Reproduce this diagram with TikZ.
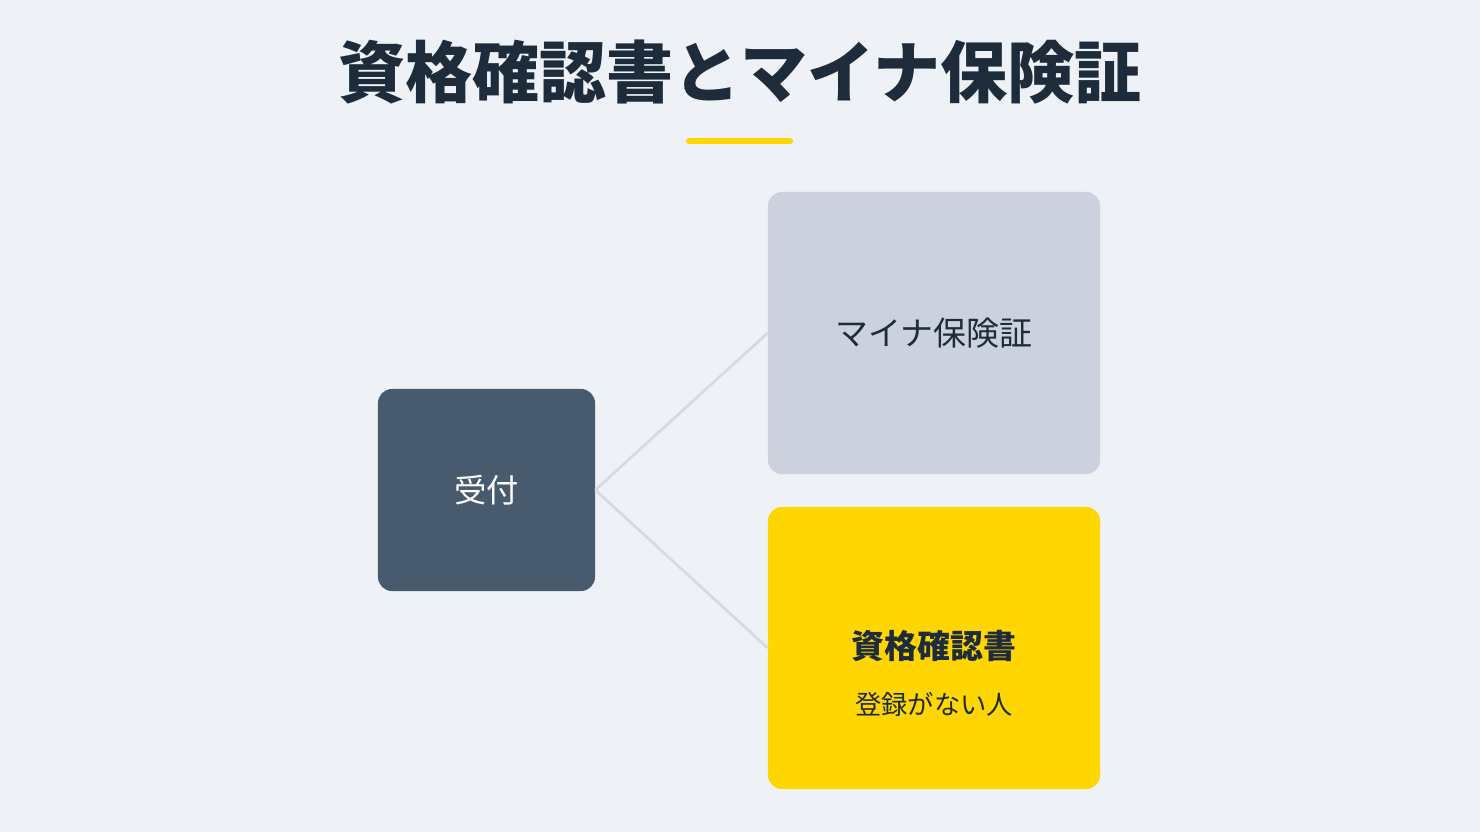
\documentclass[tikz,border=0pt]{standalone}
\usepackage{fontspec}
\setmainfont{Noto Sans CJK JP}
\usetikzlibrary{positioning}
\definecolor{page bg}{HTML}{EEF2F7}
\definecolor{ink}{HTML}{1E2B3A}
\definecolor{slate}{HTML}{475A6E}
\definecolor{mist}{HTML}{CBD2DD}
\definecolor{sun}{HTML}{FFD600}
\definecolor{wirecol}{HTML}{D6DBE2}
\tikzset{card/.style={rounded corners=0.35cm, inner sep=0pt, minimum width=8.3cm, minimum height=7.05cm}}
\tikzset{link/.style={draw=wirecol, line width=2pt}}

\begin{document}
\begin{tikzpicture}[x=0.025cm, y=-0.025cm]
                \fill[page bg] (0, 0) rectangle (1480, 832);
                \useasboundingbox (0, 0) rectangle (1480, 832);
                \node[text=ink, font=\fontsize{47.7}{56}\selectfont\bfseries] (title) at (740, 72) {資格確認書とマイナ保険証};
                \draw[sun, line width=4.3pt, line cap=round] (689, 141) -- (790, 141);
                \node[card, fill=slate, minimum width=5.425cm, minimum height=5.05cm] (desk) at (486.5, 490) {};
                \node[text=white, font=\fontsize{23}{28}\selectfont] (desklabel) at (desk.center) {受付};
                \node[card, fill=mist] (myna) at (934, 333) {};
                \node[text=ink, font=\fontsize{23.4}{28}\selectfont] (mynalabel) at (myna.center) {マイナ保険証};
                \node[card, fill=sun] (paper) at (934, 648) {};
                \node[text=ink, font=\fontsize{23.4}{28}\selectfont\bfseries] (paperlabel) at (934, 646) {資格確認書};
                \node[text=ink, font=\fontsize{18.7}{24}\selectfont] (papernote) at (934, 704) {登録がない人};
                \draw[link] (desk.east) -- (myna.west);
                \draw[link] (desk.east) -- (paper.west);
            \end{tikzpicture}
\end{document}
